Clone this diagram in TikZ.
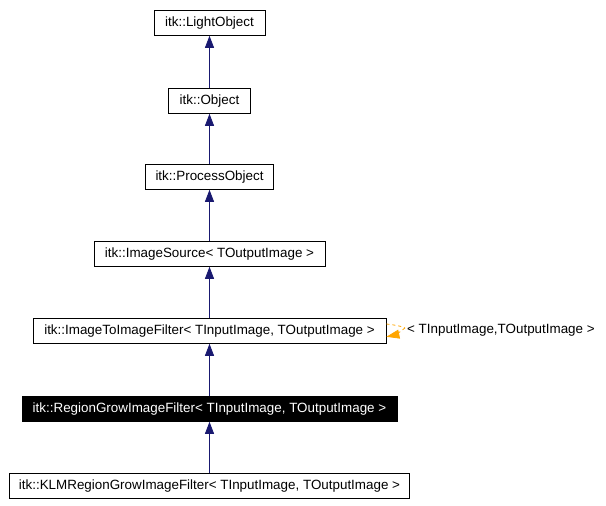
\documentclass[tikz,border=0pt]{standalone}
\usepackage{fontspec}
\setmainfont{Liberation Sans}
\usetikzlibrary{arrows.meta}
\definecolor{edgeblue}{HTML}{191970}
\definecolor{tplorange}{HTML}{FFA500}
\begin{document}
\begin{tikzpicture}[x=1pt,y=-1pt,
  cls/.style={draw=black,fill=white,line width=0.8pt,inner sep=0pt,minimum height=25pt,font=\fontsize{13.4}{15}\selectfont,anchor=north},
  cur/.style={cls,fill=black,text=white},
  inh/.style={draw=edgeblue,line width=0.8pt,-{Triangle[length=12pt,width=9pt]}},
  tpl/.style={draw=tplorange,line width=0.8pt,dash pattern=on 3pt off 3pt}]
\useasboundingbox (0,0) rectangle (606,506);
\node[cls,minimum width=111pt] (lo) at (209.5,10) {itk::LightObject};
\node[cls,minimum width=82pt] (ob) at (209.5,88) {itk::Object};
\node[cls,minimum width=128pt] (po) at (209.5,164) {itk::ProcessObject};
\node[cls,minimum width=231pt] (is) at (209.5,241) {itk::ImageSource< TOutputImage >};
\node[cls,minimum width=353pt] (itf) at (209.5,318) {itk::ImageToImageFilter< TInputImage, TOutputImage >};
\node[cur,minimum width=375pt] (rg) at (209.5,396) {itk::RegionGrowImageFilter< TInputImage, TOutputImage >};
\node[cls,minimum width=400pt] (klm) at (209.5,473) {itk::KLMRegionGrowImageFilter< TInputImage, TOutputImage >};
\draw[inh] (ob.north) -- (lo.south);
\draw[inh] (po.north) -- (ob.south);
\draw[inh] (is.north) -- (po.south);
\draw[inh] (itf.north) -- (is.south);
\draw[inh] (rg.north) -- (itf.south);
\draw[inh] (klm.north) -- (rg.south);
\coordinate (loopA) at ([yshift=-6pt]itf.north east);
\coordinate (loopB) at ([yshift=7pt]itf.south east);
\coordinate (loopC) at (405,328);
\draw[tpl] (loopA) .. controls (395,325) and (401,326) .. (loopC);
\draw[tpl,-{Triangle[length=13pt,width=9pt]}] (loopC) .. controls (401,331) and (395,335) .. (loopB);
\node[anchor=west,font=\fontsize{13.4}{15}\selectfont,inner sep=0pt] (lbl) at (407,330) {< TInputImage,TOutputImage >};
\end{tikzpicture}
\end{document}
